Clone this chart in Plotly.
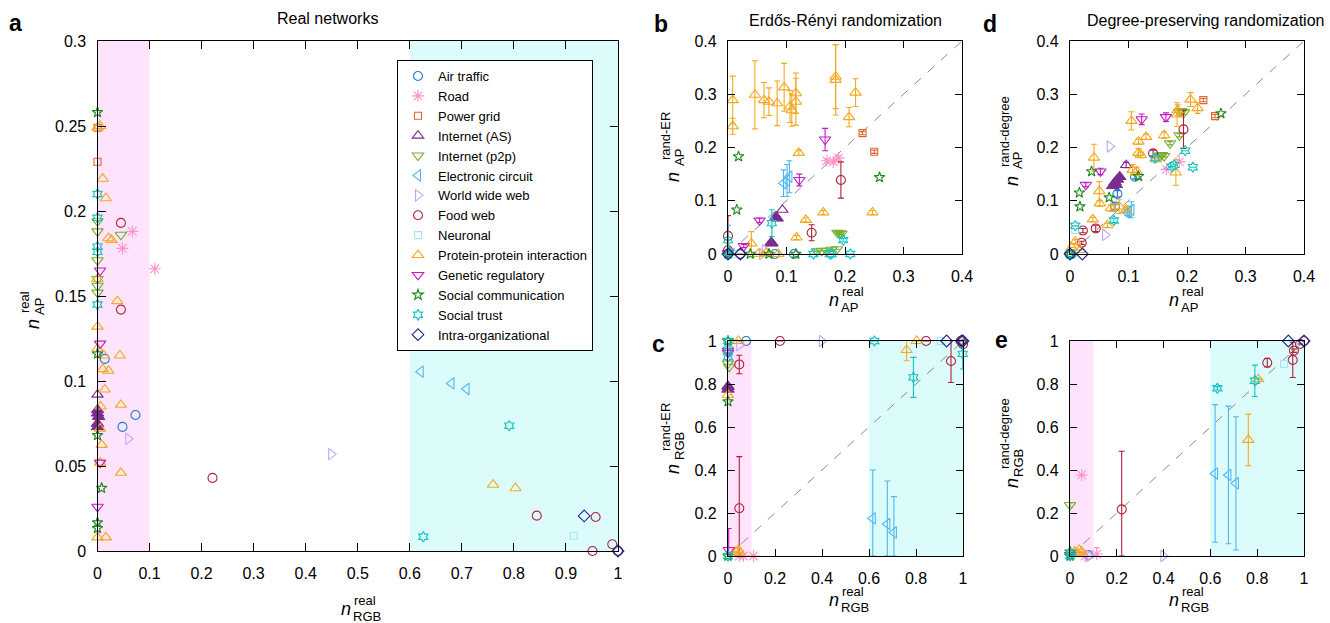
import plotly.graph_objects as go

W, H = 1330, 623
FONT = "Liberation Sans, Arial, Helvetica, sans-serif"

# ---------------- categories (name, colour, symbol, size) ----------------
CAT_NAMES = ["Air traffic", "Road", "Power grid", "Internet (AS)", "Internet (p2p)",
             "Electronic circuit", "World wide web", "Food web", "Neuronal",
             "Protein-protein interaction", "Genetic regulatory",
             "Social communication", "Social trust", "Intra-organizational"]
CAT_COLORS = ["#1f78d1", "#ff92c6", "#e2642c", "#7b2d8e", "#78ad2f",
              "#4fb7ee", "#c4a6f6", "#b41f3a", "#a8e2f8",
              "#f4a81e", "#c21dc2", "#1a8a1a", "#15c2c2", "#1b2a8f"]
CAT_SYMBOLS = ["circle-open", "asterisk-open", "square-open", "triangle-up-open",
               "triangle-down-open", "triangle-left-open", "triangle-right-open",
               "circle-open", "square-open", "triangle-up-open", "triangle-down-open",
               "star-open", "hexagram-open", "diamond-open"]
CAT_SIZES = [9, 10, 7, 10, 10, 10, 10, 9, 7, 10, 10, 8, 8, 9]

# ---------------- panel a: (n_RGB_real, n_AP_real) ----------------
PANEL_A = {
    "Air traffic": [(0.014, 0.113), (0.073, 0.080), (0.048, 0.073), (1.0, 0.0)],
    "Road": [(0.067, 0.188), (0.048, 0.178), (0.110, 0.166)],
    "Power grid": [(0.0, 0.229), (0.0, 0.249)],
    "Internet (AS)": [(0.0, 0.092)],
    "Internet (p2p)": [(0.0, 0.194), (0.0, 0.188), (0.045, 0.186), (0.0, 0.171),
                       (0.0, 0.160), (0.0, 0.156), (0.0, 0.152)],
    "Electronic circuit": [(0.621, 0.1055), (0.680, 0.0986), (0.709, 0.0953)],
    "World wide web": [(0.059, 0.066), (0.449, 0.057)],
    "Food web": [(0.045, 0.193), (0.045, 0.142), (0.221, 0.043), (0.844, 0.0208),
                 (0.957, 0.020), (0.951, 0.0), (0.989, 0.004), (1.0, 0.0)],
    "Neuronal": [(0.915, 0.009)],
    "Protein-protein interaction": [
        (0.0, 0.249), (0.005, 0.250), (0.010, 0.219), (0.016, 0.2075), (0.021, 0.184),
        (0.027, 0.183), (0.0, 0.160), (0.038, 0.147), (0.0, 0.132), (0.0, 0.119),
        (0.012, 0.115), (0.043, 0.115), (0.010, 0.107), (0.021, 0.106), (0.014, 0.095),
        (0.006, 0.085), (0.045, 0.086), (0.005, 0.072), (0.008, 0.0624), (0.005, 0.052),
        (0.045, 0.046), (0.0, 0.008), (0.016, 0.008), (0.760, 0.039), (0.803, 0.0369)],
    "Genetic regulatory": [(0.005, 0.165), (0.005, 0.122), (0.005, 0.052), (0.0, 0.026)],
    "Social communication": [(0.0, 0.258), (0.0, 0.116), (0.0, 0.068), (0.008, 0.037),
                             (0.0, 0.0167), (0.0, 0.0134)],
    "Social trust": [(0.0, 0.210), (0.0, 0.196), (0.0, 0.179), (0.0, 0.176), (0.0, 0.145),
                     (0.791, 0.0737), (0.626, 0.0084)],
    "Intra-organizational": [(0.935, 0.0206), (1.0, 0.0)],
}
AS_FILLED_A = [(0.0, 0.083), (0.0, 0.081), (0.0, 0.075), (0.0, 0.073), (0.002, 0.079)]

# ---------------- panel b: (n_AP_real, n_AP_randER, err) ----------------
PANEL_B = {
    "Air traffic": [(0.0, 0.0, 0), (0.021, 0.0, 0), (0.080, 0.0, 0), (0.113, 0.0, 0)],
    "Road": [(0.169, 0.175, 0.004), (0.180, 0.173, 0.004), (0.189, 0.180, 0.004)],
    "Power grid": [(0.230, 0.227, 0.003), (0.250, 0.192, 0.003)],
    "Internet (AS)": [(0.093, 0.083, 0)],
    "Internet (p2p)": [(0.187, 0.040, 0.002), (0.191, 0.039, 0.002), (0.194, 0.038, 0.002),
                       (0.152, 0.005, 0), (0.160, 0.006, 0), (0.169, 0.006, 0),
                       (0.177, 0.008, 0), (0.186, 0.009, 0)],
    "Electronic circuit": [(0.095, 0.133, 0.025), (0.101, 0.138, 0.03), (0.105, 0.145, 0.03)],
    "World wide web": [(0.063, 0.007, 0), (0.058, 0.0, 0)],
    "Food web": [(0.193, 0.139, 0.034), (0.143, 0.040, 0.015), (0.0, 0.034, 0.038),
                 (0.0, 0.007, 0), (0.021, 0.0, 0)],
    "Neuronal": [(0.009, 0.0, 0)],
    "Protein-protein interaction": [
        (0.008, 0.289, 0.045), (0.008, 0.240, 0.015), (0.046, 0.299, 0.064),
        (0.0615, 0.289, 0.033), (0.070, 0.286, 0.026), (0.084, 0.283, 0.042),
        (0.096, 0.313, 0.045), (0.106, 0.277, 0.03), (0.109, 0.270, 0.03),
        (0.116, 0.302, 0.038), (0.116, 0.286, 0.044), (0.184, 0.333, 0.06),
        (0.184, 0.327, 0.066), (0.218, 0.303, 0.026), (0.207, 0.257, 0.018),
        (0.121, 0.190, 0.005), (0.163, 0.078, 0.004), (0.133, 0.064, 0.004),
        (0.117, 0.031, 0.004), (0.247, 0.078, 0.004), (0.040, 0.020, 0.022),
        (0.086, 0.0, 0), (0.052, 0.0, 0), (0.065, 0.002, 0)],
    "Genetic regulatory": [(0.166, 0.215, 0.021), (0.122, 0.139, 0.011), (0.054, 0.063, 0.004),
                           (0.027, 0.015, 0.003), (0.0, 0.002, 0)],
    "Social communication": [(0.018, 0.183, 0), (0.015, 0.083, 0), (0.259, 0.144, 0),
                             (0.038, 0.0, 0), (0.070, 0.0, 0), (0.116, 0.0, 0), (0.0, 0.0, 0)],
    "Social trust": [(0.0, 0.026, 0.028), (0.075, 0.058, 0.025), (0.197, 0.026, 0.003),
                     (0.177, 0.0, 0), (0.174, 0.0, 0), (0.209, 0.0, 0), (0.146, 0.0, 0),
                     (0.003, 0.003, 0)],
    "Intra-organizational": [(0.0, 0.0, 0), (0.021, 0.0, 0)],
}
AS_FILLED_B = [(0.084, 0.067), (0.082, 0.070), (0.075, 0.020), (0.074, 0.022)]

# ---------------- panel c: (n_RGB_real, n_RGB_randER, err) ----------------
PANEL_C = {
    "Air traffic": [(0.077, 1.0, 0)],
    "Road": [(0.065, 0.0, 0), (0.108, 0.0, 0), (0.048, 0.0, 0)],
    "Power grid": [],
    "Internet (AS)": [(0.0, 0.79, 0)],
    "Internet (p2p)": [(0.0, 0.896, 0), (0.005, 0.88, 0), (0.0, 1.0, 0)],
    "Electronic circuit": [(0.616, 0.175, 0.225), (0.678, 0.149, 0.2), (0.706, 0.109, 0.167)],
    "World wide web": [(0.399, 1.0, 0), (0.048, 0.98, 0)],
    "Food web": [(0.221, 1.0, 0), (0.843, 1.0, 0), (0.99, 1.0, 0), (1.0, 0.985, 0),
                 (0.048, 0.891, 0.043), (0.048, 0.222, 0.24), (0.949, 0.907, 0.1)],
    "Neuronal": [(0.905, 1.0, 0)],
    "Protein-protein interaction": [(0.044, 1.0, 0), (0.803, 1.0, 0), (0.760, 0.958, 0.05),
                                    (0.0, 0.749, 0), (0.044, 0.028, 0.01), (0.034, 0.02, 0),
                                    (0.05, 0.015, 0)],
    "Genetic regulatory": [(0.0, 0.955, 0), (0.0, 0.945, 0), (0.003, 0.028, 0.1)],
    "Social communication": [(0.0, 0.718, 0), (0.0, 0.0, 0), (0.0, 1.0, 0)],
    "Social trust": [(0.0, 1.0, 0), (0.623, 1.0, 0), (0.0, 0.927, 0), (0.789, 0.831, 0.093),
                     (0.999, 0.94, 0.07), (0.0, 0.0, 0), (0.0, 0.96, 0)],
    "Intra-organizational": [(0.930, 1.0, 0), (0.994, 1.0, 0), (1.0, 1.0, 0)],
}
AS_FILLED_C = [(0.0, 0.788), (0.0, 0.775)]

# ---------------- panel d: (n_AP_real, n_AP_randdegree, err) ----------------
PANEL_D = {
    "Air traffic": [(0.081, 0.113, 0.006), (0.077, 0.089, 0.005), (0.111, 0.145, 0.004),
                    (0.003, 0.0, 0)],
    "Road": [(0.165, 0.159, 0), (0.187, 0.173, 0)],
    "Power grid": [(0.228, 0.289, 0.003), (0.248, 0.259, 0.003)],
    "Internet (AS)": [(0.096, 0.167, 0.005)],
    "Internet (p2p)": [(0.187, 0.267, 0.004), (0.191, 0.268, 0.004), (0.195, 0.266, 0.004),
                       (0.187, 0.223, 0.003), (0.171, 0.208, 0.003), (0.154, 0.184, 0.002),
                       (0.157, 0.186, 0.002), (0.161, 0.184, 0.002)],
    "Electronic circuit": [(0.105, 0.083, 0.015), (0.098, 0.078, 0.006), (0.101, 0.080, 0.01)],
    "World wide web": [(0.068, 0.202, 0), (0.060, 0.036, 0)],
    "Food web": [(0.194, 0.234, 0.036), (0.142, 0.189, 0.006), (0.044, 0.048, 0.006),
                 (0.022, 0.044, 0.004), (0.020, 0.021, 0.003), (0.0, 0.0, 0)],
    "Neuronal": [(0.009, 0.045, 0)],
    "Protein-protein interaction": [
        (0.206, 0.290, 0.013), (0.218, 0.274, 0.01), (0.183, 0.262, 0.022),
        (0.184, 0.270, 0.01), (0.105, 0.250, 0.017), (0.130, 0.220, 0.005),
        (0.161, 0.223, 0.006), (0.117, 0.211, 0.005), (0.117, 0.190, 0.008),
        (0.121, 0.186, 0.005), (0.147, 0.178, 0.005), (0.041, 0.181, 0.025),
        (0.107, 0.158, 0.01), (0.114, 0.155, 0.008), (0.181, 0.153, 0.024),
        (0.050, 0.118, 0.018), (0.051, 0.095, 0.005), (0.039, 0.065, 0.004),
        (0.064, 0.054, 0.004), (0.070, 0.086, 0.006), (0.084, 0.089, 0.013),
        (0.096, 0.083, 0.005), (0.009, 0.023, 0.004), (0.003, 0.0125, 0), (0.017, 0.0075, 0)],
    "Genetic regulatory": [(0.1225, 0.253, 0.01), (0.164, 0.257, 0.008), (0.052, 0.155, 0.006),
                           (0.027, 0.130, 0.004)],
    "Social communication": [(0.258, 0.264, 0), (0.037, 0.155, 0), (0.016, 0.115, 0),
                             (0.017, 0.089, 0), (0.067, 0.106, 0), (0.117, 0.146, 0),
                             (0.0, 0.0, 0)],
    "Social trust": [(0.197, 0.194, 0), (0.210, 0.163, 0), (0.178, 0.167, 0), (0.174, 0.164, 0),
                     (0.145, 0.180, 0.004), (0.075, 0.063, 0.004), (0.009, 0.053, 0),
                     (0.0, 0.0, 0)],
    "Intra-organizational": [(0.0, 0.0, 0), (0.021, 0.0, 0)],
}
AS_FILLED_D = [(0.077, 0.135), (0.081, 0.140), (0.085, 0.145), (0.073, 0.128), (0.079, 0.130)]

# ---------------- panel e: (n_RGB_real, n_RGB_randdegree, err) ----------------
PANEL_E = {
    "Air traffic": [(0.078, 0.005, 0)],
    "Road": [(0.05, 0.377, 0), (0.114, 0.009, 0.03), (0.065, 0.0, 0)],
    "Power grid": [],
    "Internet (AS)": [],
    "Internet (p2p)": [(0.0, 0.237, 0.01)],
    "Electronic circuit": [(0.62, 0.384, 0.32), (0.677, 0.377, 0.32), (0.709, 0.338, 0.31)],
    "World wide web": [(0.399, 0.0, 0), (0.082, 0.0, 0)],
    "Food web": [(0.983, 0.986, 0), (0.957, 0.955, 0.008), (0.952, 0.912, 0.082),
                 (0.843, 0.899, 0.02), (0.221, 0.217, 0.27), (1.0, 1.0, 0)],
    "Neuronal": [(0.915, 0.893, 0)],
    "Protein-protein interaction": [(0.805, 0.822, 0), (0.762, 0.54, 0.12), (0.02, 0.02, 0),
                                    (0.04, 0.028, 0), (0.03, 0.015, 0), (0.05, 0.02, 0)],
    "Genetic regulatory": [(0.0, 0.005, 0)],
    "Social communication": [(0.0, 0.0, 0), (0.0, 0.02, 0)],
    "Social trust": [(0.63, 0.78, 0.008), (0.79, 0.815, 0.073), (0.0, 0.0, 0), (0.005, 0.01, 0)],
    "Intra-organizational": [(0.933, 1.0, 0), (1.0, 1.0, 0)],
}
AS_FILLED_E = [(0.0, 0.0)]

# ---------------- axis ranges / ticks ----------------
RANGES = {"a": ([0, 1], [0, 0.3]), "b": ([0, 0.4], [0, 0.4]), "c": ([0, 1], [0, 1]),
          "d": ([0, 0.4], [0, 0.4]), "e": ([0, 1], [0, 1])}
DTICKS = {"a": (0.1, 0.05), "b": (0.1, 0.1), "c": (0.2, 0.2), "d": (0.1, 0.1), "e": (0.2, 0.2)}


def px_x(p):
    return p / W


def px_y(p):
    return 1 - p / H


# pixel boxes (left, right, top, bottom)
BOXES = {"a": (97.5, 618, 41, 551), "b": (728, 962, 41, 254), "c": (728, 963, 341, 556),
         "d": (1070, 1304, 41, 254), "e": (1070, 1304, 341, 556)}
AX = {"a": ("x", "y"), "b": ("x2", "y2"), "c": ("x3", "y3"), "d": ("x4", "y4"), "e": ("x5", "y5")}

fig = go.Figure()


def add_points(panel, data, filled):
    xa, ya = AX[panel]
    for name, col, sym, size in zip(CAT_NAMES, CAT_COLORS, CAT_SYMBOLS, CAT_SIZES):
        pts = data.get(name, [])
        if not pts and panel != "a":
            continue
        xs = [p[0] for p in pts]
        ys = [p[1] for p in pts]
        es = [p[2] if len(p) > 2 else 0 for p in pts]
        em = [min(e, y) for e, y in zip(es, ys)]
        fig.add_trace(go.Scatter(
            x=xs, y=ys, mode="markers", name=name, xaxis=xa, yaxis=ya,
            showlegend=(panel == "a"), cliponaxis=False,
            marker=dict(symbol=sym, size=size, color=col, line=dict(width=1.1, color=col)),
            error_y=dict(type="data", array=es, arrayminus=em, visible=any(e > 0 for e in es),
                         color=col, thickness=1.1, width=3),
        ))
        if name == "Internet (AS)" and filled:
            fig.add_trace(go.Scatter(
                x=[p[0] for p in filled], y=[p[1] for p in filled], mode="markers",
                xaxis=xa, yaxis=ya, showlegend=False, cliponaxis=False, name=name,
                marker=dict(symbol="triangle-up", size=11, color=col,
                            line=dict(width=1, color=col)),
            ))


add_points("a", PANEL_A, AS_FILLED_A)
add_points("b", PANEL_B, AS_FILLED_B)
add_points("c", PANEL_C, AS_FILLED_C)
add_points("d", PANEL_D, AS_FILLED_D)
add_points("e", PANEL_E, AS_FILLED_E)

layout = dict(width=W, height=H, autosize=False,
              margin=dict(l=0, r=0, t=0, b=0, pad=0, autoexpand=False),
              paper_bgcolor="white", plot_bgcolor="white",
              font=dict(family=FONT, color="black"), showlegend=True)

for panel, (l, r, t, b) in BOXES.items():
    xa, ya = AX[panel]
    xk = "xaxis" if xa == "x" else "xaxis" + xa[1:]
    yk = "yaxis" if ya == "y" else "yaxis" + ya[1:]
    common = dict(showline=True, linecolor="black", linewidth=1.2, mirror="ticks",
                  ticks="inside", ticklen=8 if panel == "a" else 7, tickwidth=1.2,
                  tickcolor="black", showgrid=False, zeroline=False, automargin=False,
                  tickfont=dict(family=FONT, size=16, color="black"))
    layout[xk] = dict(common, domain=[px_x(l), px_x(r)], range=RANGES[panel][0],
                      dtick=DTICKS[panel][0], tick0=0, anchor=ya, ticklabelstandoff=8)
    layout[yk] = dict(common, domain=[px_y(b), px_y(t)], range=RANGES[panel][1],
                      dtick=DTICKS[panel][1], tick0=0, anchor=xa, ticklabelstandoff=7)

fig.update_layout(**layout)

PINK = "#fde3fb"
CYAN = "#dcfcfc"
shapes = []
for panel in ["a", "c", "e"]:
    xa, ya = AX[panel]
    for x0, x1, c in [(0, 0.1, PINK), (0.6, 1.0, CYAN)]:
        shapes.append(dict(type="rect", xref=xa, yref=ya + " domain", x0=x0, x1=x1, y0=0, y1=1,
                           fillcolor=c, line=dict(width=0), layer="below"))
for panel in ["b", "c", "d", "e"]:
    xa, ya = AX[panel]
    m = RANGES[panel][0][1]
    shapes.append(dict(type="line", xref=xa, yref=ya, x0=0, y0=0, x1=m, y1=m,
                       line=dict(color="#8a8a8a", width=1, dash="dash"), layer="below"))
fig.update_layout(shapes=shapes)

fig.update_layout(legend=dict(
    x=px_x(397), y=px_y(60), xanchor="left", yanchor="top",
    bgcolor="white", bordercolor="black", borderwidth=1,
    font=dict(family=FONT, size=13, color="black"), itemsizing="trace",
    tracegroupgap=0))

ann = []


def text(xp, yp, s, size, bold=False, italic=False, xanchor="center", angle=0):
    if bold:
        s = "<b>" + s + "</b>"
    if italic:
        s = "<i>" + s + "</i>"
    ann.append(dict(x=px_x(xp), y=px_y(yp), xref="paper", yref="paper", text=s,
                    showarrow=False, xanchor=xanchor, yanchor="middle", textangle=angle,
                    font=dict(family=FONT, size=size, color="black")))


# panel letters
for letter, xp, yp in [("a", 15, 23), ("b", 661, 24), ("c", 658, 344), ("d", 990, 24), ("e", 1001, 340)]:
    text(xp, yp, letter, 23, bold=True)

# panel titles
text(327, 19, "Real networks", 16)
text(845, 21, "Erdős-Rényi randomization", 16)
text(1205, 21, "Degree-preserving randomization", 16)


def xlabel(nx, ny, sup, sub):
    text(nx, ny, "n", 18, italic=True)
    text(nx + 6, ny - 9, sup, 13, xanchor="left")
    text(nx + 5, ny + 7, sub, 13, xanchor="left")


def ylabel(nx, ny, sup, sub, sup_c, sub_c):
    text(nx, ny, "n", 18, italic=True, angle=-90)
    text(nx - 8, sup_c, sup, 13, angle=-90)
    text(nx + 6, sub_c, sub, 13, angle=-90)


xlabel(346, 609, "real", "RGB")
xlabel(834, 300, "real", "AP")
xlabel(834, 600, "real", "RGB")
xlabel(1174, 300, "real", "AP")
xlabel(1174, 600, "real", "RGB")

ylabel(33, 324, "real", "AP", 302, 307)
ylabel(673, 177, "rand-ER", "AP", 136, 158)
ylabel(673, 469, "rand-ER", "RGB", 427, 446)
ylabel(1012, 181, "rand-degree", "AP", 132, 161)
ylabel(1012, 483, "rand-degree", "RGB", 434, 463)

fig.update_layout(annotations=ann)

fig.write_html("out.html", config={"displayModeBar": False},
               post_script="document.body.style.margin='0px';document.body.style.padding='0px';")
